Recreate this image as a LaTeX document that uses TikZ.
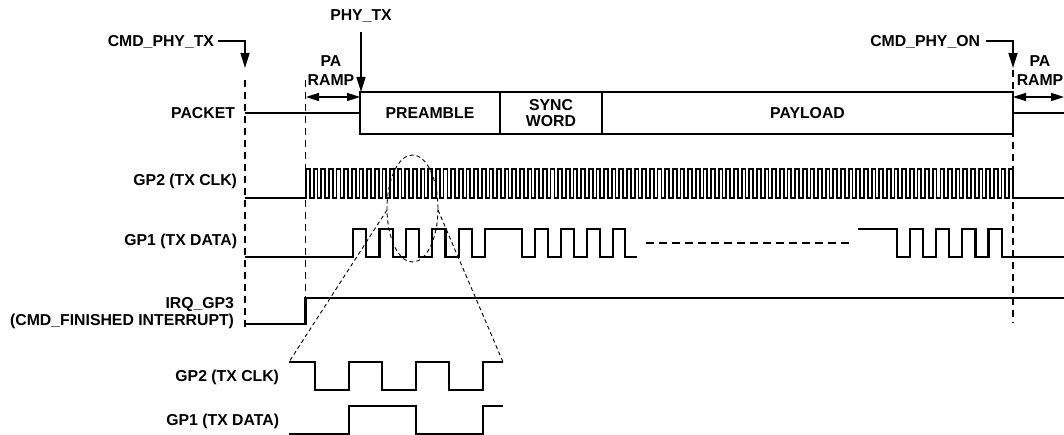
\documentclass[tikz,border=0pt]{standalone}
\usepackage{fontspec}
\setmainfont{Liberation Sans}
\usetikzlibrary{arrows.meta}
\begin{document}
\begin{tikzpicture}[x=1pt,y=-1pt,
  lbl/.style={font=\fontsize{15.8}{17}\selectfont\bfseries, inner sep=0pt, outer sep=0pt},
  wave/.style={line width=2.2pt},
  clk/.style={line width=1.8pt},
  vdash/.style={line width=1.1pt, dash pattern=on 7pt off 5pt},
  zdash/.style={line width=0.9pt, dash pattern=on 4pt off 3pt},
  gapdash/.style={line width=1.4pt, dash pattern=on 8pt off 5pt},
  pkt/.style={line width=1.5pt},
  arr/.style={line width=1.6pt, -{Triangle[length=15pt,width=9pt]}},
  dbl/.style={line width=1.6pt, {Triangle[length=13pt,width=8pt]}-{Triangle[length=13pt,width=8pt]}},
  seg/.style={draw, line width=2.1pt, minimum height=42pt, inner sep=0pt, outer sep=0pt,
              align=center, font=\fontsize{15.8}{16}\selectfont\bfseries}
]
\useasboundingbox (0,0) rectangle (1064,435);

% packet boxes
\node[seg, minimum width=140pt] (pre) at (430,113) {PREAMBLE};
\node[seg, minimum width=102pt] (sync) at (551,113) {SYNC\\WORD};
\node[seg, minimum width=411pt] (pay) at (807.5,113) {PAYLOAD};
\draw[pkt] (245,113) -- (pre.west);
\draw[pkt] (pay.east) -- (1064,113);

% top labels and arrows
\node[lbl, anchor=base east] (cmdtx) at (214,46.7) {CMD\_PHY\_TX};
\coordinate (cmdtxl) at (218,41);
\coordinate (cmdtxtip) at (245,68);
\draw[arr] (cmdtxl) -| (cmdtxtip);

\node[lbl, anchor=base] (phytx) at (361,20.7) {PHY\_TX};
\coordinate (phytxl) at (361,32);
\draw[arr] (phytxl) -- (phytxl |- pre.north);

\node[lbl, anchor=base east] (cmdon) at (980,46.7) {CMD\_PHY\_ON};
\coordinate (cmdonl) at (986,41);
\coordinate (cmdontip) at (1013,68);
\draw[arr] (cmdonl) -| (cmdontip);

\node[lbl, align=center, font=\fontsize{15.8}{19}\selectfont\bfseries] (ramp1) at (331,70.5) {PA\\RAMP};
\node[lbl, align=center, font=\fontsize{15.8}{19}\selectfont\bfseries] (ramp2) at (1040,70.5) {PA\\RAMP};
\coordinate (r1a) at (306,97);
\coordinate (r1b) at (360,97);
\coordinate (r2a) at (1013,97);
\coordinate (r2b) at (1064,97);
\draw[dbl] (r1a) -- (r1b);
\draw[dbl] (r2a) -- (r2b);

% signal labels
\node[lbl, anchor=base east] (packet) at (235,118.7) {PACKET};
\node[lbl, anchor=base east] (gp2) at (237,186) {GP2 (TX CLK)};
\node[lbl, anchor=base east] (gp1) at (237,245.7) {GP1 (TX DATA)};
\node[lbl, anchor=east, align=right] (irq) at (234,313) {IRQ\_GP3\\(CMD\_FINISHED INTERRUPT)};

% vertical dashed markers
\draw[vdash] (245,80) -- (245,328);
\draw[vdash] (305.5,80) -- (305.5,298);
\draw[vdash] (1013,70) -- (1013,323);

% TX clock
\draw[clk] (245,198) -- (306,198)
  \foreach \k in {1,...,93} { -- ++(0,-29) -- ++(3.8216,0) -- ++(0,29) -- ++(3.8216,0) }
  -- (1064,198);

% TX data
\draw[wave] (245,257) -| (353,229) -| (366.2,257) -| (379.4,229) -| (392.6,257)
  -| (405.8,229) -| (419,257) -| (432.2,229) -| (445.4,257) -| (458.6,229)
  -| (471.8,257) -| (485,229) -| (522,257) -| (535,229) -| (548,257)
  -| (561,229) -| (574,257) -| (587,229) -| (600,257) -| (613,229)
  -| (625,257) -- (637,257);
\draw[gapdash] (646,243) -- (853,243);
\draw[wave] (858,229) -| (897,257) -| (910,229) -| (923,257) -| (936,229)
  -| (949,257) -| (962,229) -| (975.5,257) -| (988.5,229) -| (1002,257) -- (1064,257);

% IRQ
\draw[wave] (245,324) -| (305.5,298) -- (1064,298);

% zoom ellipse and lines
\draw[zdash] (412.5,208.5) ellipse [x radius=25.5, y radius=53.5];
\draw[zdash] (387,210) -- (289,362);
\draw[zdash] (438,210) -- (503,362);

% inset
\node[lbl, anchor=base east] (igp2) at (279,381.5) {GP2 (TX CLK)};
\node[lbl, anchor=base east] (igp1) at (279,425.5) {GP1 (TX DATA)};
\draw[wave] (289,362) -| (315,390) -| (349,362) -| (382,390) -| (416,362)
  -| (449,390) -| (483,362) -- (503,362);
\draw[wave] (289,434) -| (349,406) -| (416,434) -| (483,406) -- (503,406);
\end{tikzpicture}
\end{document}
